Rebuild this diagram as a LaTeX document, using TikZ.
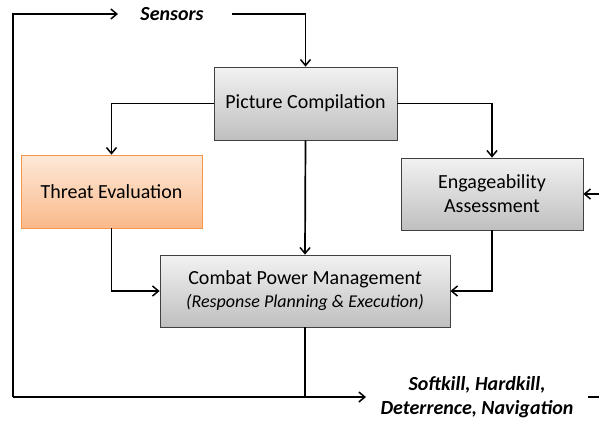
\documentclass[tikz,border=0pt]{standalone}
\usepackage{fontspec}
\setmainfont{Carlito}
\usetikzlibrary{arrows.meta}
\definecolor{grayTop}{HTML}{F2F2F2}
\definecolor{grayBot}{HTML}{BFBFBF}
\definecolor{orTop}{HTML}{FDE9D9}
\definecolor{orBot}{HTML}{FAB98A}
\definecolor{orBorder}{HTML}{F79646}
\begin{document}
\begin{tikzpicture}[x=1pt,y=-1pt,
  graybox/.style={draw=black!75, line width=0.7pt, top color=grayTop, bottom color=grayBot, inner sep=0pt, font=\fontsize{20}{24}\selectfont, align=center},
  orbox/.style={draw=orBorder, line width=0.7pt, top color=orTop, bottom color=orBot, inner sep=0pt, font=\fontsize{20}{24}\selectfont, align=center},
  lbl/.style={font=\fontsize{20}{24}\selectfont\bfseries\itshape, align=center, inner sep=0pt},
  conn/.style={line width=1.7pt, -{Straight Barb[length=6pt,width=10pt,line width=1.5pt]}},
  plain/.style={line width=1.7pt}]
\useasboundingbox (0,0) rectangle (599,421);
\node[lbl] (sens) at (172,14) {Sensors};
\node[graybox, minimum width=183pt, minimum height=73pt] (pc) at (305.5,103.5) {Picture Compilation};
\node[orbox, minimum width=181pt, minimum height=73pt] (te) at (111.5,191.5) {Threat Evaluation};
\node[graybox, minimum width=182pt, minimum height=72pt] (ea) at (492,194) {Engageability\\Assessment};
\node[graybox, minimum width=290pt, minimum height=72pt] (cpm) at (305,291) {Combat Power Managemen{\itshape t}\\[-1pt]{\fontsize{18}{22}\selectfont\itshape (Response Planning \& Execution)}};
\node[lbl] (out) at (477,397) {Softkill, Hardkill,\\Deterrence, Navigation};
\coordinate (tl) at (13,14);
\coordinate (bl) at (13,397);
\coordinate (sa) at (118,14);
\coordinate (sb) at (232,14);
\coordinate (rr) at (599,194);
\coordinate (rb) at (599,397);
\coordinate (ob) at (588,397);
\coordinate (oa) at (366,397);
% sensors loop
\draw[conn] (bl) -- (tl) -- (sa);
\draw[conn] (sb) -| (pc.north);
% from picture compilation
\draw[conn] (pc.west) -| (te.north);
\draw[conn] (pc.east) -| (ea.north);
\draw[conn] (pc.south) -- (cpm.north);
\draw[conn] (rr) -- (ea.east);
% into combat power management
\draw[conn] (te.south) |- (cpm.west);
\draw[conn] (ea.south) |- (cpm.east);
% output
\draw[plain] (cpm.south) -- (cpm.south |- bl);
\draw[conn] (bl) -- (oa);
\draw[plain] (ob) -- (rb);
\end{tikzpicture}
\end{document}
